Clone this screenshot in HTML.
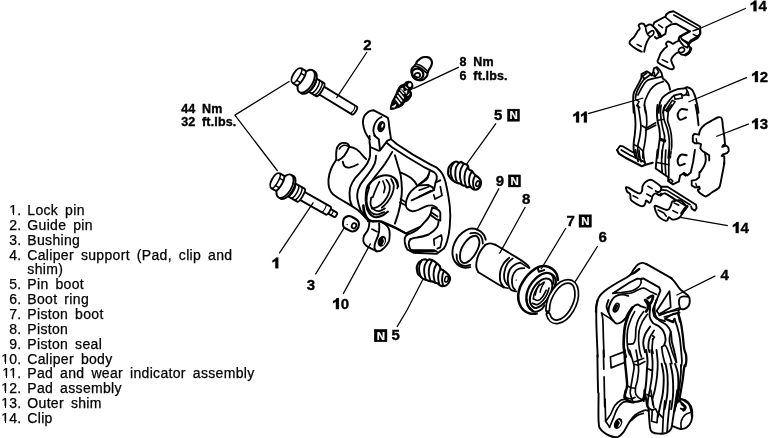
<!DOCTYPE html>
<html><head><meta charset="utf-8">
<style>
html,body{margin:0;padding:0;background:#fff;}
body{width:770px;height:438px;position:relative;overflow:hidden;will-change:transform;opacity:0.999;font-family:"Liberation Sans",sans-serif;color:#000;}
.lg{position:absolute;left:0;font-size:14px;line-height:15px;white-space:nowrap;letter-spacing:0.33px;word-spacing:2.7px;height:15px;-webkit-text-stroke:0.25px #000;}
.lg i{font-style:normal;display:inline-block;width:21.3px;text-align:right;word-spacing:0;letter-spacing:0.2px;}
.lg b{font-weight:normal;position:absolute;left:27.3px;top:0;}
svg{position:absolute;left:0;top:0;}
.fw{position:absolute;width:7px;height:3px;background:#fff;}
.fs{position:absolute;width:1.58px;height:2.25px;background:#000;}
.n{font-weight:bold;font-size:15px;font-family:"Liberation Sans",sans-serif;}
.t{font-weight:bold;font-size:12.5px;letter-spacing:0.15px;word-spacing:3px;font-family:"Liberation Sans",sans-serif;}
.nn{font-weight:bold;font-size:11.5px;font-family:"Liberation Sans",sans-serif;}
</style></head><body>
<div class="lg" style="top:202.9px"><i>1.</i><b>Lock pin</b></div>
<div class="lg" style="top:217.8px"><i>2.</i><b>Guide pin</b></div>
<div class="lg" style="top:232.6px"><i>3.</i><b>Bushing</b></div>
<div class="lg" style="top:247.5px"><i>4.</i><b>Caliper support (Pad, clip and</b></div>
<div class="lg" style="top:262.3px"><i></i><b>shim)</b></div>
<div class="lg" style="top:277.2px"><i>5.</i><b>Pin boot</b></div>
<div class="lg" style="top:292.1px"><i>6.</i><b>Boot ring</b></div>
<div class="lg" style="top:306.9px"><i>7.</i><b>Piston boot</b></div>
<div class="lg" style="top:321.8px"><i>8.</i><b>Piston</b></div>
<div class="lg" style="top:336.6px"><i>9.</i><b>Piston seal</b></div>
<div class="lg" style="top:351.5px"><i>10.</i><b>Caliper body</b></div>
<div class="lg" style="top:366.4px"><i>11.</i><b>Pad and wear indicator assembly</b></div>
<div class="lg" style="top:381.2px"><i>12.</i><b>Pad assembly</b></div>
<div class="lg" style="top:396.1px"><i>13.</i><b>Outer shim</b></div>
<div class="lg" style="top:410.9px"><i>14.</i><b>Clip</b></div>
<div class="fw" style="left:10px;top:213px"></div><div class="fs" style="left:12.58px;top:213px"></div>
<div class="fw" style="left:2px;top:362px"></div><div class="fs" style="left:4.58px;top:362px"></div>
<div class="fw" style="left:3px;top:376px"></div><div class="fs" style="left:5.58px;top:376px"></div>
<div class="fw" style="left:10px;top:376px"></div><div class="fs" style="left:12.58px;top:376px"></div>
<div class="fw" style="left:2px;top:391px"></div><div class="fs" style="left:4.58px;top:391px"></div>
<div class="fw" style="left:2px;top:406px"></div><div class="fs" style="left:4.58px;top:406px"></div>
<div class="fw" style="left:2px;top:421px"></div><div class="fs" style="left:4.58px;top:421px"></div>
<svg width="770" height="438" viewBox="0 0 770 438" fill="none" stroke="#000" stroke-width="1.7" stroke-linecap="round" stroke-linejoin="round">
<g stroke-width="1.90">
<g transform="translate(295.7,74.9) rotate(31.2)" fill="#fff">
<path d="M26,-4.6 L68.5,-4.6 C71,-4.6 71,4.6 68.5,4.6 L26,4.6 Z"/>
<path d="M67,-3.5 C68.2,-2 68.2,2 67,3.5" fill="none" stroke-width="1.12"/>
<path d="M14,-7.6 L28.5,-7.6 C31.5,-7.6 31.5,7.6 28.5,7.6 L14,7.6 Z"/>
<path d="M19.5,-7.6 C22.3,-5 22.3,5 19.5,7.6 M23,-7.6 C25.8,-5 25.8,5 23,7.6 M26.3,-7.6 C29,-5 29,5 26.3,7.6" fill="none" stroke-width="1.46"/>
<ellipse cx="14.5" cy="0" rx="6.6" ry="12.8"/>
<ellipse cx="12.3" cy="0" rx="6.6" ry="12.8"/>
<path d="M6.5,-8.6 L2,-8.6 C-0.6,-8.6 -2.4,-5 -2.4,0 C-2.4,5 -0.6,8.6 2,8.6 L6.5,8.6 C9.3,6 9.3,-6 6.5,-8.6 Z"/>
<path d="M2,-8.6 C4.6,-6 4.6,6 2,8.6" fill="none" stroke-width="1.46"/>
<path d="M3.8,-4.2 L8.2,-4.2 M3.8,4.2 L8.2,4.2" stroke-width="1.46"/>
</g>
<g transform="translate(274.3,180.1) rotate(29.5)" fill="#fff">
<path d="M60,-2.6 L70,-2.6 C72,-2.6 72,2.6 70,2.6 L60,2.6 Z"/>
<path d="M66,-2.6 C67.3,-1.5 67.3,1.5 66,2.6" fill="none" stroke-width="1.12"/>
<path d="M28,-4.6 L62,-4.6 C64,-4.6 64,4.6 62,4.6 L28,4.6 Z"/>
<path d="M57,-4.6 C58.6,-3 58.6,3 57,4.6" fill="none" stroke-width="1.12"/>
<path d="M14,-7.4 L30.5,-7.4 C33.3,-7.4 33.3,7.4 30.5,7.4 L14,7.4 Z"/>
<path d="M20,-7.4 C22.8,-5 22.8,5 20,7.4 M23.8,-7.4 C26.5,-5 26.5,5 23.8,7.4 M27.5,-7.4 C30.2,-5 30.2,5 27.5,7.4" fill="none" stroke-width="1.46"/>
<ellipse cx="14.5" cy="0" rx="6.6" ry="13"/>
<ellipse cx="12.3" cy="0" rx="6.6" ry="13"/>
<path d="M6.5,-8.6 L2,-8.6 C-0.6,-8.6 -2.4,-5 -2.4,0 C-2.4,5 -0.6,8.6 2,8.6 L6.5,8.6 C9.3,6 9.3,-6 6.5,-8.6 Z"/>
<path d="M2,-8.6 C4.6,-6 4.6,6 2,8.6" fill="none" stroke-width="1.46"/>
<path d="M3.8,-4.2 L8.2,-4.2 M3.8,4.2 L8.2,4.2" stroke-width="1.46"/>
</g>

<g>
<path d="M369.8,139.5 C366,135 363.5,128 363,123.4 C362.8,119 364,116 365.6,114.3 C367.5,112 370.5,110.4 373.4,110.2 L387.7,117.6 C388.6,120 389,124 389.2,127 L391,139.1"/>
<path d="M381.5,117 C378,118.5 375,122 373.8,127 C373,131 373.6,134 375,135.5"/>
<ellipse cx="381.3" cy="126.6" rx="2.9" ry="4.9" transform="rotate(18 381.3 126.6)" stroke-width="1.68" fill="#000"/>
<ellipse cx="382.4" cy="125.6" rx="0.9" ry="2.2" transform="rotate(18 382.4 125.6)" fill="#fff" stroke="none"/>
<path d="M369.6,136 C369.2,140 369.6,144 370.2,147 L379,150.8 M374.2,135.5 L378.8,139.2 L380,150.3 L387.5,140.6 L391,139.1"/>
<path d="M391,139.1 L397,144.3 L413.4,154.9 L429.7,164.2 L436.8,167.7 C439,169.5 440.5,171 441.8,173 C444,176.5 445.5,181 446.4,186 C447.8,192 449,199 449.8,206 C450.4,212 450.4,220 449.8,226 C449.4,232 448.4,237 447,241.5 C446,245 445,247 443.8,248.6 L436.8,253.8 L413.4,252.7 L407.5,249.7 C406,247.5 405.3,245.5 405,243.5 C404.6,241.5 404.5,239.5 404.8,238 C405.3,236.5 406.3,235.3 407.6,234.3"/>
<path d="M386.6,142.8 L392,147.3 L407.5,157.2 L425.1,167.7 L434.4,172.4 C436,173.8 436.6,175 436.8,176.5 C437,178.5 436.6,180.5 435.5,182.5 L434,190"/>
<path d="M436.8,182 L440.3,180.3"/>
<path d="M392.3,151.9 C390,156 387.5,160 385.1,163.6 C382,168 379,171.5 376,175.4 C373.5,178.5 371.5,181.5 369.5,184.5 L367,188.4"/>
<path d="M394.9,155.2 C396,159 397,162.5 398.1,166.3 C399.2,169.5 400,172.5 400.7,175.4 C401.4,180 401.8,185 401.9,189 C401.9,193 401.6,196.5 401.1,199.5 C400.4,204.5 399.4,209 398.2,213.6 L394.9,223.6"/>
<path d="M400.9,172.6 C404.5,174 408,175.8 411.1,178 C413.5,180 415.4,182.2 416.8,185"/>
<path d="M429.7,171.2 C429.3,173.5 428.5,175.3 427.4,177.1 C425,180 422,182.3 419.2,184.3"/>
<path d="M428.6,175 C428.2,177 427.4,178.6 426.2,179.7 L418,185.5 C415.5,187.3 413,189.3 411,191.4 C409.5,193.2 408.3,195.2 407.5,197.2 C406.5,199.6 405.9,202 405.8,204.2 C405.8,206.2 406.4,207.8 407.5,208.9 C408.8,210.3 410.4,211 412.2,211.2 C414.2,211.3 416.2,210.8 418,210 L425.1,206.6 C427.4,205.7 429.8,205.3 432.1,205.4 C433.8,205.8 435.4,206.6 436.8,207.7"/>
<path d="M418,185.5 L428,184.9 L432.7,187.3 L433.8,190.2 L411.6,200.3"/>
<path d="M419.2,190.2 L428.6,186.7 M419.2,196.4 L430.9,190.8" stroke-width="1.68"/>
<path d="M400.5,199 L405.2,201.9 M399.9,202.5 L404.6,204.8" stroke-width="1.68"/>
<path d="M440.3,186.7 L442,195.5 L435,199 L433.8,194.9" stroke-width="1.68"/>
<path d="M432.1,207.7 L430.3,214.7 L436.8,219.4 L440.3,220.6 L440.3,212.4 C439.4,210.8 438.2,209.6 436.8,208.9 L432.1,207.7"/>
<path d="M431.5,212.5 L437.5,216.5" stroke-width="1.68"/>
<path d="M430.3,214.7 C428.5,218 426.5,220.5 423.9,222.9 C421.7,225.6 419.3,227.9 416.9,229.9 C414,232 410.7,233.5 407.5,234.5"/>
<path d="M410.5,239.2 C409.3,240.6 408.7,242.2 408.7,243.9 C408.9,246.3 409.7,248.5 411,250.3 L434.4,250.3 L436.8,251.5"/>
<path d="M410.5,239.2 C412.5,238.2 414.7,237.7 416.9,237.5 C421,237 425,236 428.6,234.5 C432,232.5 434.9,230.2 436.8,227.5 C438,225.7 438.5,223.7 438.5,221.7"/>
<path d="M433.8,239.2 L441.4,235.1 L442,239.2 L440.3,247.4 L437.3,248.6 M433.8,239.5 L434.4,245.1" stroke-width="1.68"/>
<path d="M411.5,250.8 L434,251" stroke-width="2.24"/>
<path d="M368,221.3 L381.7,221.3 L394.7,227.1 L407.6,234.3"/>
<path d="M336.3,159.7 C336,155 336,151.5 336.9,148 C338,145.5 339.5,143.8 341.5,143.1 C344,142.6 346.5,143 348,144.1 C348.8,144.9 349.2,145.8 349.3,146.7 C348,150 346.3,153 344.1,155.8 C342.4,157.6 340.4,159.2 338.2,160.4"/>
<path d="M349.3,146.7 C351.8,147 354.3,147.9 356.5,149.3 C359,151 361,153.3 363,155.8 L366.2,159.1"/>
<path d="M336.3,159.7 C334.3,162.5 332.5,165.5 331.1,168.9 C329.7,172.3 328.8,175.8 328.5,179.3 C328.3,182.5 328.5,185.3 329.1,187.8 C329.9,190.4 331.2,192.5 333,194.3 C335.3,196.3 338,198 340.8,199.5 L348.6,204.1 C351.8,206 354.9,207.9 357.8,210 C360.2,212 362.3,214.2 364.3,216.5 L369.3,222.2"/>
<path d="M342.8,161.7 C343,163.5 343.6,165 344.7,166.3 C346,167.4 347.6,167.8 349.3,167.6 C352.3,167 355.2,165.8 357.8,164.3"/>
<path d="M339.3,149 C340.4,147 341.8,145.8 343.3,145.4 C345,145.2 346.5,145.4 347.8,146.2" stroke-width="1.57"/>
<path d="M370.2,146.5 L370.1,150.6 C370.3,153.5 370.1,156 369.5,158.4 C368.4,161.8 366.6,164.8 364.3,167.6 C361.5,171.2 358.2,174.5 355.2,178 C353,181 351.2,184.2 350.2,187.5 C349.4,191 349.2,195 349.9,199.5 C350.3,201.5 351,203.5 351.9,205.4"/>
<path d="M376,155.8 C376,158.5 375.6,161 374.7,163.6 C373.2,167.4 370.9,170.8 368.2,174.1 C365.5,177.6 362.7,180.9 360.4,184.5 C358.6,187.6 357.5,191 357.2,194.5 C357.1,197 357.3,199 357.8,200.8 C358.4,204 359.2,207 360.4,209.9 C361.8,212.6 363.6,215 365.6,217.1"/>
<path d="M363,205.4 C363,208.4 363.4,211.3 364.3,213.9 C365.5,216.8 367.2,219 369.5,220.4 C372,221.3 375,221.4 378.6,221 L395.5,228.2 L405.9,233.4 L420,226.9"/>
<path d="M369.3,223.2 C369.2,225.5 368.8,227.7 368,229.7 C367,232 365.4,233.7 364.1,235.6 C363.3,237.5 363.1,239.5 363.4,241.5 C363.9,243.2 364.8,244.5 366,245.4 C367.7,246.7 369.5,247.7 371.3,248.6 L376.5,251.2 C378.4,251.4 380.2,251 381.7,249.9 C383.8,248.5 385.5,246.7 386.9,244.7 C388,243.3 388.8,241.8 389.2,240.2 C389.8,237 389.9,234 389.5,231 C389.2,229.3 388.5,227.8 387.5,226.5 C386,224.6 384,223.1 381.7,221.9"/>
<path d="M379.1,223.2 C379.4,226 379.4,228.5 379.1,231 C378.8,232.9 378.4,234.7 377.8,236.3 C377,238.5 376,240.6 375.2,242.8 C374.6,244.5 374.3,246.3 374.5,248 C374.9,249.3 375.5,250.3 376.5,251.2"/>
<ellipse cx="381.9" cy="241.3" rx="3.1" ry="4.8" transform="rotate(22 381.9 241.3)" fill="#000" stroke-width="1.68"/>
<path d="M383.6,238.6 C384.6,240 384.4,242.6 383,244.4" stroke="#fff" stroke-width="1.01"/>
<path d="M371.9,229.1 L377.1,231.7" stroke-width="1.68"/>
</g>

<path d="M398.2,186.5 C397.9,185.5 397.8,182.0 396.6,180.3 C395.4,178.6 393.4,177.0 391.1,176.2 C388.8,175.4 385.6,175.1 382.9,175.5 C380.1,176.0 377.2,177.2 374.7,179.0 C372.1,180.7 369.3,183.1 367.8,185.8 C366.3,188.5 366.0,192.2 365.8,195.4 C365.5,198.6 365.6,202.0 366.2,205.0 C366.7,208.0 367.6,211.2 369.2,213.2 C370.7,215.3 373.1,217.0 375.3,217.3 C377.6,217.7 380.8,216.2 382.9,215.3 C385.0,214.3 387.1,212.2 387.9,211.6" stroke-width="2.02"/>
<path d="M369.2,187.2 C368.8,188.7 367.2,193.1 366.8,196.1 C366.5,199.1 366.5,202.4 367.1,205.0 C367.7,207.6 368.9,210.2 370.5,211.8 C372.1,213.4 374.4,214.5 376.7,214.6 C379.0,214.6 383.0,212.5 384.2,212.1" stroke-width="1.79"/>
<path d="M371.2,197.5 C371.1,198.6 370.2,202.4 370.5,204.3 C370.9,206.2 371.9,208.0 373.3,209.1 C374.7,210.2 376.8,211.3 378.8,211.2 C380.7,211.0 383.9,208.9 384.9,208.4" stroke-width="1.79"/>
<path d="M386.3,179.6 C386.9,180.7 389.3,183.4 389.7,185.8 C390.1,188.2 389.6,191.4 388.6,194.0 C387.7,196.7 385.8,199.4 384.0,201.6 C382.2,203.7 379.8,205.6 377.8,206.8 C375.8,207.9 372.9,208.3 371.9,208.5" stroke-width="1.79"/>
<path d="M391.1,179.0 C391.6,180.1 393.7,183.2 393.8,185.8 C394.0,188.4 393.0,192.0 391.9,194.7 C390.8,197.5 388.9,200.1 387.3,202.2 C385.6,204.4 382.7,206.8 381.8,207.7" stroke-width="1.79"/>
<path d="M382.9,181.0 C383.2,182.0 384.8,185.2 384.9,187.2 C385.1,189.1 383.9,191.7 383.7,192.7" stroke-width="1.68"/>
<path d="M395.2,179.6 C395.6,180.6 397.2,183.6 397.5,185.1 C397.9,186.6 397.3,188.0 397.3,188.5" stroke-width="1.68"/>
<path d="M379.5,181.7 C378.8,183.1 376.7,187.3 375.6,189.9 C374.5,192.5 373.2,196.2 372.7,197.5" stroke-width="1.68"/>
<path d="M363.7,205.0 C363.9,206.4 364.3,210.8 365.1,213.2 C365.9,215.6 367.1,218.0 368.5,219.4 C369.9,220.8 372.7,221.3 373.6,221.7" stroke-width="1.68"/>

<path d="M666.5,14.2 L669.1,12.3 L673.5,11.3 L700.1,26.5 L700.4,33.6 L697.4,36.5 L690.6,40.5 L687.8,44.1"/>
<path d="M673.8,15.0 L698.5,28.9" stroke-width="1.57"/>
<path d="M666.5,14.2 L665.4,16.5 L654.4,22.3 L652.8,26.0"/>
<path d="M665.4,17.1 L671.7,22.3" stroke-width="1.57"/>
<path d="M658.6,24.9 L662.6,27.6" stroke-width="1.57"/>
<path d="M666.5,27.3 L671.2,24.4 L675.9,23.7 L689.3,31.2 L679.6,36.5 L678.8,39.6"/>
<path d="M666.5,27.3 L665.4,33.9 L661.2,36.5 L656.5,38.6 L654.9,37.0"/>
<path d="M652.8,26.0 L656.5,29.7 L660.2,33.9 L661.2,36.5 L658.4,35.7" fill="#000"/>
<path d="M652.8,26.0 C652.3,25.7 650.9,24.4 649.7,24.4 C648.4,24.5 646.5,26.3 645.5,26.2 C644.5,26.1 644.5,24.3 643.7,23.9 C642.9,23.5 641.6,23.4 640.7,23.7 C639.9,24.0 638.8,24.7 638.6,25.5 C638.5,26.3 639.9,27.7 639.7,28.6 C639.5,29.6 638.5,29.9 637.6,31.2 C636.7,32.6 635.5,35.1 634.4,36.5 C633.4,37.9 632.1,38.8 631.3,39.6 C630.5,40.5 629.9,41.0 629.7,41.7 C629.5,42.5 629.1,43.1 630.2,44.4 C631.4,45.6 634.6,47.9 636.5,49.1 C638.5,50.3 640.9,51.3 641.8,51.7"/>
<path d="M645.5,26.2 C645.6,26.9 645.6,28.8 646.0,30.2 C646.3,31.6 646.9,33.3 647.6,34.4 C648.3,35.4 649.4,36.3 650.2,36.5 C651.0,36.7 651.9,36.1 652.5,35.4 C653.1,34.8 653.9,33.3 653.9,32.5 C653.9,31.7 653.1,30.8 652.5,30.7 C651.9,30.6 651.0,31.2 650.2,31.8 C649.4,32.3 648.0,33.8 647.6,34.2" stroke-width="1.68"/>
<path d="M650.2,36.5 C649.8,37.2 648.4,39.1 647.6,40.7 C646.8,42.3 646.0,44.1 645.5,45.9 C644.9,47.8 644.4,50.8 644.2,51.7"/>
<path d="M637.1,44.4 L641.3,46.5" stroke-width="1.57"/>
<path d="M693.2,30.7 L698.5,29.1" stroke-width="1.57"/>
<path d="M680.1,36.5 L682.2,39.6 L688.0,44.1" stroke-width="1.57"/>
<path d="M690.1,31.3 L679.6,37.1 L678.6,39.2 L680.7,42.3 L683.8,46.0 L687.5,47.6 L689.1,43.9 L691.2,41.8 L697.5,38.1 L700.1,34.4 L700.1,29.7"/>
<path d="M681.7,39.2 L687.5,42.3" stroke-width="1.57"/>
<path d="M693.3,34.4 L697.5,36.5" stroke-width="1.57"/>
<path d="M678.6,40.7 C678.1,41.0 676.4,41.8 675.4,42.3 C674.5,42.8 673.6,43.9 672.8,43.9 C672.0,43.9 671.6,42.7 670.7,42.3 C669.8,41.9 668.4,41.3 667.6,41.6 C666.8,41.9 666.1,43.1 666.0,43.9 C665.9,44.7 667.3,45.7 667.0,46.5 C666.8,47.3 665.5,47.5 664.4,48.6 C663.4,49.8 661.7,51.7 660.7,53.3 C659.8,55.0 659.2,57.2 658.6,58.6 C658.1,60.0 657.2,60.8 657.6,61.7 C657.9,62.7 658.8,63.2 660.7,64.4 C662.7,65.5 667.1,67.8 669.1,68.6 C671.2,69.4 672.0,69.4 672.8,69.1 C673.6,68.8 674.0,67.9 673.9,67.0 C673.8,66.1 672.7,65.1 672.3,63.8 C671.9,62.6 671.0,61.0 671.2,59.6 C671.5,58.2 672.6,56.7 673.9,55.4 C675.1,54.2 677.4,52.5 678.6,52.3 C679.8,52.1 680.1,54.0 681.2,54.4 C682.4,54.8 684.1,55.3 685.4,54.9 C686.7,54.6 688.2,53.3 689.1,52.3 C690.0,51.2 690.7,49.7 690.7,48.6 C690.7,47.6 689.4,46.4 689.1,46.0"/>
<path d="M681.2,47.6 C680.3,47.8 678.9,49.0 678.6,49.7 C678.2,50.4 678.6,51.3 679.1,51.8 C679.6,52.2 680.9,52.7 681.7,52.5 C682.6,52.3 684.0,51.5 684.4,50.7 C684.7,50.0 684.4,48.6 683.8,48.1 C683.3,47.6 682.1,47.3 681.2,47.6 Z" stroke-width="1.68"/>
<path d="M685.4,54.9 C686.0,54.5 688.2,53.6 689.1,52.5 C690.0,51.5 690.5,49.3 690.8,48.6" stroke-width="2.91"/>
<path d="M662.3,59.6 L667.6,62.3" stroke-width="1.57"/>

<path d="M633.7,112.8 C633.6,111.0 633.2,104.8 633.2,101.6 C633.2,98.3 633.0,96.0 633.7,93.2 C634.5,90.5 636.6,87.5 637.9,84.9 C639.2,82.4 640.9,79.0 641.5,77.8"/>
<path d="M641.5,77.8 L641.5,74.2 L646.8,71.3 L649.8,73.1 L651.6,75.4 L653.3,71.9 L653.9,68.3 L656.9,67.1 L659.9,70.1 L661.6,73.1 L662.8,78.4"/>
<path d="M662.8,78.4 C663.3,78.8 664.8,79.7 665.8,80.8 C666.8,81.9 668.1,83.4 668.8,84.9 C669.5,86.4 669.8,88.9 670.0,89.7"/>
<path d="M635.5,98.0 C635.7,97.0 635.8,94.4 636.7,92.1 C637.6,89.7 639.6,85.9 640.9,83.7 C642.2,81.6 643.8,79.8 644.4,79.0" stroke-width="1.68"/>
<path d="M644.4,79.0 L642.7,76.0 L646.8,73.1" stroke-width="1.68"/>
<path d="M644.4,79.0 L651.0,74.2 L655.1,76.6 L658.7,71.9 L656.9,68.9" stroke-width="1.68"/>
<path d="M655.1,76.6 L654.2,72.5" stroke-width="1.57"/>
<path d="M637.9,95.0 C638.6,93.7 640.8,89.5 642.1,87.3 C643.3,85.1 644.3,83.3 645.6,82.0 C646.9,80.6 647.0,80.2 649.8,79.4 C652.5,78.5 660.2,77.1 662.2,76.6" stroke-width="1.68"/>
<path d="M645.6,112.8 C645.4,111.6 644.4,107.4 644.4,105.1 C644.4,102.8 644.6,101.8 645.6,99.2 C646.6,96.6 648.6,92.2 650.4,89.7 C652.2,87.2 654.1,85.7 656.3,84.3 C658.5,83.0 662.2,81.9 663.4,81.4" stroke-width="1.68"/>
<path d="M635.5,99.2 L639.1,101.6 L636.7,105.7 L639.7,107.5" stroke-width="1.46"/>
<path d="M633.7,105.0 C633.9,106.6 634.6,111.3 634.9,114.5 C635.2,117.7 635.5,120.8 635.5,124.0 C635.5,127.2 635.2,130.3 634.9,133.5 C634.6,136.7 633.9,140.2 633.7,143.0 C633.5,145.8 633.4,147.6 633.7,150.1 C634.0,152.6 635.2,156.6 635.5,157.8"/>
<path d="M637.9,105.0 C638.2,106.8 639.2,112.1 639.7,115.7 C640.2,119.2 640.9,122.8 640.9,126.4 C640.9,129.9 640.2,133.9 639.7,137.1 C639.2,140.2 638.2,142.8 637.9,145.4 C637.6,147.9 637.7,150.4 637.9,152.5 C638.1,154.6 638.9,156.9 639.1,157.8" stroke-width="1.68"/>
<path d="M644.4,105.0 C644.7,106.4 645.8,110.3 646.2,113.3 C646.6,116.3 646.8,120.2 646.8,122.8 C646.8,125.4 646.4,126.4 646.2,128.7 C646.0,131.1 645.9,134.3 645.6,137.1 C645.3,139.8 644.8,143.0 644.4,145.4 C644.0,147.7 643.5,149.2 643.2,151.3 C642.9,153.4 642.8,156.7 642.7,157.8" stroke-width="1.68"/>
<path d="M642.1,125.8 L646.2,128.2 L655.7,122.8" stroke-width="1.68"/>
<path d="M645.6,130.2 L655.7,125.2" stroke-width="1.68"/>
<path d="M634.3,144.8 L639.1,147.2 L643.0,151.1" stroke-width="1.57"/>
<path d="M635.5,150.0 C635.7,151.2 636.3,155.2 636.7,157.1 C637.2,159.0 638.0,160.6 638.3,161.3"/>
<path d="M639.1,150.0 C639.2,151.0 639.3,154.0 639.7,155.9 C640.0,157.9 640.9,160.9 641.1,161.9" stroke-width="1.57"/>
<path d="M643.2,150.0 C643.3,151.2 643.6,155.1 643.8,157.1 C644.1,159.1 644.5,161.1 644.7,161.9" stroke-width="1.68"/>
<path d="M617.1,150.0 L620.1,145.8 L623.1,146.4 L633.2,152.4" stroke-width="1.79"/>
<path d="M617.1,150.0 L618.9,153.6 L625.4,157.7 L638.5,164.5 L641.8,166.3 L645.6,164.8 L652.7,162.8" stroke-width="2.13"/>
<path d="M621.3,150.0 L630.2,155.3 L637.3,158.5 L644.7,162.1 L645.6,164.8" stroke-width="1.79"/>
<path d="M658.7,112.8 C658.8,111.6 658.7,107.6 659.3,105.1 C659.9,102.6 660.8,100.0 662.2,98.0 C663.7,96.0 665.6,94.7 668.2,93.2 C670.8,91.8 675.1,89.9 677.7,89.1 C680.3,88.3 682.0,88.8 683.6,88.5 C685.2,88.2 685.8,87.1 687.2,87.3 C688.6,87.5 690.6,88.3 691.9,89.7 C693.2,91.1 694.0,93.0 694.9,95.6 C695.8,98.2 696.7,102.2 697.3,105.1 C697.9,108.0 698.3,111.6 698.5,112.8"/>
<path d="M662.8,112.8 C663.1,111.9 663.5,109.6 664.6,107.5 C665.7,105.4 667.8,102.3 669.4,100.4 C670.9,98.4 672.1,96.7 674.1,95.6 C676.1,94.5 680.1,94.1 681.2,93.8" stroke-width="1.68"/>
<path d="M681.2,93.8 L683.6,95.6 L686.0,94.4 L687.2,90.9 L686.0,88.5" stroke-width="1.68"/>
<path d="M665.8,110.5 L672.3,100.4 L675.1,101.6 L668.4,111.6" stroke-width="1.57"/>
<path d="M674.1,95.6 L675.1,99.2 L682.4,98.0 L681.2,93.8" stroke-width="1.57"/>
<path d="M687.8,91.5 L689.0,95.6 L686.0,94.7" stroke-width="1.57"/>
<path d="M657.5,105.0 C657.4,106.2 656.9,109.6 656.9,112.1 C656.9,114.7 657.1,117.7 657.5,120.4 C657.9,123.2 658.9,126.0 659.3,128.7 C659.7,131.5 660.0,134.1 659.9,137.1 C659.8,140.0 659.1,143.1 658.7,146.6 C658.3,150.0 657.7,156.0 657.5,157.8"/>
<path d="M661.1,105.0 C661.0,106.0 660.5,108.6 660.5,110.9 C660.5,113.3 660.7,116.3 661.1,119.2 C661.5,122.2 662.2,125.8 662.8,128.7 C663.4,131.7 664.6,133.9 664.6,137.1 C664.6,140.2 663.3,144.3 662.8,147.7 C662.3,151.2 661.8,156.2 661.6,157.8" stroke-width="1.68"/>
<path d="M665.2,105.0 C664.9,105.8 663.6,107.4 663.4,109.7 C663.2,112.1 663.4,116.3 664.0,119.2 C664.6,122.2 666.2,124.8 667.0,127.6 C667.8,130.3 668.4,133.1 668.8,135.9 C669.2,138.6 669.5,140.5 669.4,144.2 C669.3,147.8 668.4,155.6 668.2,157.8" stroke-width="1.68"/>
<path d="M671.7,105.0 C670.9,106.0 667.6,109.7 667.0,110.9 C666.4,112.1 668.1,110.5 668.2,112.1 C668.3,113.7 667.4,118.1 667.6,120.4 C667.8,122.8 668.8,124.2 669.4,126.4 C670.0,128.5 670.8,131.1 671.1,133.5 C671.5,135.9 671.6,138.5 671.7,140.6 C671.8,142.7 671.7,145.1 671.7,146.0" stroke-width="1.68"/>
<path d="M671.7,146.6 L670.3,157.8" stroke-width="1.57" stroke-dasharray="3 1.6"/>
<path d="M659.9,138.2 L665.8,140.0 L665.2,142.0 L659.9,140.3 Z" stroke-width="1.12" fill="#000"/>
<path d="M687.2,109.7 C686.2,109.7 682.8,108.4 681.2,109.2 C679.7,109.9 677.9,112.7 677.7,114.5 C677.5,116.3 678.7,119.3 680.1,119.8 C681.4,120.3 685.0,117.9 686.0,117.5" stroke-width="2.02"/>
<path d="M695.5,105.0 C695.8,106.6 696.8,111.1 697.3,114.5 C697.8,117.9 698.3,123.4 698.5,125.2"/>
<path d="M664.0,109.7 L667.0,110.9" stroke-width="1.46"/>
<path d="M657.5,120.4 L664.0,119.2" stroke-width="1.46"/>
<path d="M657.5,150.0 L656.3,161.9 L655.7,168.4 L668.2,177.3 L668.2,180.9 L672.9,184.4 L678.9,181.5 L680.1,175.5 L683.6,173.2 L687.2,175.5 L690.7,172.6 L693.1,161.9 L694.9,150.0"/>
<path d="M662.2,150.0 C662.1,152.0 661.6,158.2 661.6,161.9 C661.6,165.5 662.1,170.3 662.2,172.0" stroke-width="1.68"/>
<path d="M665.8,150.0 C665.7,152.2 665.2,159.0 665.2,163.1 C665.2,167.1 665.7,172.5 665.8,174.3" stroke-width="1.68"/>
<path d="M669.4,150.0 C669.3,152.4 668.9,159.6 668.8,164.2 C668.7,168.9 668.8,175.6 668.8,177.9" stroke-width="1.68"/>
<path d="M656.9,162.5 L668.8,164.8" stroke-width="1.68"/>
<path d="M668.2,180.9 L670.6,179.1 L672.9,181.1 L671.1,183.2 Z" stroke-width="1.46"/>
<path d="M686.6,155.3 C685.7,155.2 682.7,154.0 681.2,154.7 C679.8,155.5 678.0,158.3 677.7,160.1 C677.4,161.9 678.3,164.8 679.5,165.4 C680.6,166.0 683.9,164.0 684.8,163.7" stroke-width="2.02"/>
<path d="M682.4,173.7 L684.2,172.6 L686.6,174.3 L685.4,176.1 Z" stroke-width="1.12" fill="#000"/>
<path d="M699.0,134.6 C699.2,133.8 699.4,131.4 700.3,129.8 C701.2,128.2 702.6,126.5 704.4,125.0 C706.3,123.5 709.1,122.2 711.3,120.9 C713.5,119.6 715.9,118.1 717.5,117.5 C719.1,116.9 720.1,117.0 720.9,117.5 C721.7,117.9 721.9,118.6 722.2,120.2 C722.6,121.8 722.6,124.3 722.9,127.1 C723.3,129.8 724.0,133.8 724.3,136.7 C724.6,139.5 724.9,142.9 725.0,144.2"/>
<path d="M725.0,144.2 L722.9,145.6 L722.2,146.9 L726.4,145.6 L728.4,147.6 L728.8,151.0 L727.0,153.1 L722.9,154.5 L721.6,155.8 L724.3,156.5 L724.3,164.1"/>
<path d="M699.0,134.6 L694.2,133.9 L692.8,136.0 L692.8,141.5 L694.8,143.2 L698.3,143.2 L701.0,144.2 L700.3,148.3 L702.4,151.0 L705.8,153.1 L709.2,155.2 L709.2,160.6"/>
<path d="M696.2,138.7 L696.9,142.4" stroke-width="1.46"/>
<path d="M705.1,153.8 C705.2,154.8 705.9,158.0 705.8,159.9 C705.7,161.9 705.4,163.4 704.4,165.4 C703.5,167.4 701.0,170.9 700.3,172.0" stroke-width="1.90"/>
<path d="M724.2,162.8 C724.1,163.3 724.3,163.3 723.9,165.5 C723.5,167.8 722.5,173.1 721.8,176.5 C721.2,179.9 720.5,184.0 719.8,186.1 C719.1,188.2 719.0,187.8 717.7,188.8 C716.5,189.9 714.2,191.0 712.2,192.3 C710.3,193.5 707.7,195.9 706.1,196.4 C704.5,196.8 703.9,195.8 702.7,195.0 C701.4,194.2 699.3,192.6 698.5,191.6 C697.7,190.6 698.0,189.5 697.9,189.1"/>
<path d="M699.5,172.0 L699.2,177.2 L695.8,179.9 L691.7,180.6 L691.7,185.4 L695.1,187.5 L699.2,186.8 L699.9,188.8 L697.9,190.2" stroke-width="1.90"/>
<path d="M695.8,183.4 L696.5,185.8" stroke-width="1.46"/>
<path d="M625.9,188.0 C626.2,187.9 625.5,186.5 627.7,187.4 C629.9,188.3 636.6,192.8 639.0,193.4 C641.4,194.0 641.4,192.2 642.0,191.0 C642.6,189.8 642.0,187.7 642.6,186.2 C643.2,184.8 644.2,183.2 645.5,182.1 C646.8,181.0 648.8,179.8 650.3,179.7 C651.8,179.6 652.8,180.4 654.4,181.5 C656.1,182.6 659.3,184.9 660.4,186.2 C661.5,187.6 661.4,188.8 661.0,189.8 C660.6,190.8 658.9,192.0 658.0,192.2 C657.1,192.4 656.0,191.2 655.6,191.0"/>
<path d="M625.9,188.0 C626.1,188.6 626.4,190.6 627.1,191.6 C627.8,192.6 629.5,192.7 630.1,194.0 C630.7,195.3 630.2,198.0 630.7,199.3 C631.2,200.6 631.5,200.6 633.1,201.7 C634.6,202.8 638.4,205.1 640.2,205.8 C642.0,206.5 642.9,206.3 643.7,205.8 C644.6,205.3 645.1,203.8 645.5,202.9 C645.9,202.0 645.4,200.5 646.1,200.5 C646.8,200.5 648.8,203.0 649.7,202.9 C650.6,202.8 651.0,201.1 651.5,199.9 C652.0,198.7 652.0,196.8 652.7,195.7 C653.3,194.7 654.5,193.5 655.6,193.4 C656.7,193.3 658.3,195.2 659.2,195.2 C660.1,195.2 660.7,193.7 661.0,193.4"/>
<path d="M647.9,186.2 L652.1,188.6" stroke-width="1.57"/>
<path d="M646.7,194.0 L650.9,196.3" stroke-width="1.57"/>
<path d="M633.1,195.7 L637.8,198.1" stroke-width="1.57"/>
<path d="M661.0,186.8 L667.5,186.8 L696.0,204.7 L696.6,208.2 L694.8,210.6 L691.8,208.8 L691.2,206.4"/>
<path d="M661.0,189.8 L666.9,190.4 L690.1,204.7" stroke-width="1.68"/>
<path d="M665.1,193.4 L686.5,206.4" stroke-width="1.68"/>
<path d="M660.4,195.7 C661.1,195.4 662.7,193.2 664.5,193.4 C666.3,193.6 669.2,195.7 671.1,196.9 C672.9,198.1 675.6,199.7 675.8,200.5 C676.0,201.3 673.1,200.7 672.2,201.7 C671.4,202.7 671.4,205.0 670.5,206.4 C669.6,207.8 669.4,210.1 666.9,210.0 C664.4,209.9 657.6,206.0 655.6,205.8 C653.6,205.6 654.8,207.5 655.0,208.8 C655.2,210.1 656.1,212.2 656.8,213.6 C657.5,214.9 657.8,215.9 659.2,217.1 C660.6,218.3 663.7,220.2 665.1,220.7 C666.5,221.2 666.9,220.7 667.5,220.1 C668.1,219.5 667.9,217.2 668.7,217.1 C669.5,217.0 670.9,219.2 672.2,219.5 C673.6,219.8 675.6,219.4 677.0,218.9 C678.4,218.4 679.6,217.6 680.6,216.5 C681.5,215.4 681.9,213.9 682.9,212.4 C683.9,210.9 686.2,209.0 686.5,207.6 C686.8,206.2 685.7,205.2 684.7,204.1 C683.7,202.9 682.0,201.1 680.6,200.5 C679.1,199.9 676.6,200.5 675.8,200.5"/>
<path d="M658.0,210.0 L663.9,213.0 L666.3,216.2" stroke-width="1.57"/>
<path d="M674.0,202.9 L678.8,205.2" stroke-width="1.57"/>
<path d="M672.8,210.6 L677.6,213.0" stroke-width="1.57"/>
<path d="M681.7,213.6 C682.2,212.8 683.8,210.0 684.7,208.8 C685.6,207.6 686.7,206.8 687.1,206.4" stroke-width="2.91"/>

<path d="M448.1,172.2 C448.2,170.9 448.2,168.8 448.8,167.4 C449.3,166.0 450.6,164.8 451.5,164.0 C452.4,163.1 453.4,162.6 454.2,162.2 C455.0,161.8 455.5,161.4 456.3,161.5 C457.1,161.6 458.2,162.7 459.0,162.7 C459.8,162.8 460.3,161.8 461.1,161.9 C461.9,162.1 463.0,163.3 463.8,163.7 C464.6,164.1 465.2,163.9 465.9,164.2 C466.6,164.6 467.5,165.2 467.9,166.0 C468.4,166.9 468.2,168.5 468.8,169.3 C469.3,170.1 470.6,170.1 471.4,170.7 C472.1,171.3 472.7,172.1 473.4,172.9 C474.1,173.6 474.7,174.5 475.5,175.2 C476.3,175.9 477.4,176.5 478.2,177.3 C479.0,178.0 479.8,178.7 480.3,179.7 C480.7,180.7 481.1,181.9 481.0,183.2 C480.8,184.4 480.4,186.2 479.6,187.3 C478.8,188.3 477.3,189.3 476.2,189.6 C475.0,189.9 473.6,189.4 472.7,189.0 C471.9,188.7 471.4,187.9 471.0,187.4 C470.5,186.9 470.6,186.3 470.0,186.3 C469.4,186.3 468.1,187.5 467.3,187.4 C466.5,187.3 466.0,186.2 465.2,185.9 C464.4,185.5 463.4,185.7 462.5,185.3 C461.6,185.0 460.8,184.0 459.7,183.6 C458.7,183.1 457.4,183.1 456.3,182.6 C455.2,182.1 453.9,181.2 452.9,180.4 C451.8,179.6 450.9,178.6 450.1,177.7 C449.4,176.8 448.7,175.8 448.4,174.9 C448.0,174.0 448.0,173.4 448.1,172.2 Z" stroke-width="2.13" fill="#fff"/>
<path d="M454.2,162.2 C453.7,163.1 451.8,165.4 451.2,167.4 C450.7,169.4 450.5,172.1 450.8,174.2 C451.1,176.3 452.5,179.0 452.9,180.0" stroke-width="1.90"/>
<path d="M459.0,162.7 C458.5,163.6 456.5,165.9 455.9,168.1 C455.3,170.2 455.2,173.2 455.3,175.6 C455.5,178.0 456.7,181.3 457.0,182.5" stroke-width="1.90"/>
<path d="M463.8,163.7 C463.3,164.7 461.3,167.2 460.7,169.5 C460.0,171.7 459.8,174.5 460.0,177.0 C460.2,179.5 461.5,183.2 461.8,184.4" stroke-width="1.90"/>
<path d="M468.2,166.3 C467.7,167.3 465.8,170.0 465.2,172.2 C464.6,174.4 464.4,177.4 464.5,179.7 C464.6,182.1 465.7,185.1 465.9,186.2" stroke-width="1.90"/>
<path d="M472.1,171.2 C471.6,172.1 470.1,174.4 469.6,176.3 C469.1,178.2 468.9,180.7 469.0,182.5 C469.2,184.2 470.2,186.2 470.4,187.0" stroke-width="1.90"/>
<path d="M475.5,175.3 C475.1,176.1 473.8,178.1 473.4,179.7 C473.0,181.4 473.0,183.7 473.2,185.2 C473.3,186.7 474.1,188.2 474.2,188.8" stroke-width="1.90"/>
<ellipse cx="477.7" cy="183.6" rx="1.7" ry="2.8" transform="rotate(20 477.7 183.6)" stroke-width="1.57"/>
<path d="M417.2,271.0 C417.0,269.9 416.6,268.3 416.8,266.9 C417.0,265.5 417.7,263.9 418.6,262.8 C419.4,261.7 420.8,260.7 422.0,260.1 C423.1,259.5 424.5,259.2 425.4,259.2 C426.3,259.3 426.8,260.3 427.5,260.3 C428.2,260.4 428.7,259.4 429.5,259.4 C430.3,259.4 431.5,260.0 432.3,260.3 C433.1,260.7 433.5,260.8 434.3,261.3 C435.1,261.8 436.1,262.7 437.1,263.5 C438.0,264.3 439.2,265.3 439.8,266.2 C440.4,267.1 440.0,268.3 440.6,269.0 C441.2,269.7 442.3,269.8 443.2,270.3 C444.1,270.9 445.0,271.6 446.0,272.4 C446.9,273.2 448.0,274.1 448.7,275.1 C449.4,276.2 450.1,277.3 450.1,278.6 C450.1,279.8 449.4,281.5 448.7,282.7 C448.0,283.8 447.1,284.8 446.0,285.4 C444.8,286.0 443.0,286.2 441.8,286.1 C440.7,286.0 439.8,285.2 439.1,284.7 C438.4,284.3 438.4,283.8 437.7,283.5 C437.1,283.2 435.9,283.0 435.0,282.7 C434.1,282.3 433.3,281.7 432.3,281.4 C431.2,281.1 429.9,281.1 428.8,280.9 C427.8,280.6 427.1,280.3 426.1,279.9 C425.1,279.5 423.7,279.2 422.7,278.6 C421.6,277.9 420.7,276.6 419.9,275.8 C419.1,275.0 418.3,274.6 417.9,273.8 C417.4,273.0 417.4,272.2 417.2,271.0 Z" stroke-width="2.13" fill="#fff"/>
<path d="M422.0,260.1 C421.6,260.9 420.0,263.0 419.5,264.9 C419.1,266.7 419.0,269.0 419.2,271.0 C419.5,273.1 420.6,276.1 420.9,277.1" stroke-width="1.90"/>
<path d="M427.5,260.3 C427.0,261.2 425.3,263.5 424.7,265.5 C424.2,267.6 424.0,270.1 424.2,272.4 C424.4,274.7 425.5,278.3 425.8,279.5" stroke-width="1.90"/>
<path d="M432.3,260.3 C431.8,261.3 430.1,264.0 429.5,266.2 C428.9,268.5 428.7,271.3 428.8,273.8 C429.0,276.3 430.2,279.9 430.5,281.2" stroke-width="1.90"/>
<path d="M436.8,263.5 C436.4,264.4 434.8,266.9 434.3,269.0 C433.8,271.0 433.5,273.6 433.6,275.8 C433.7,278.1 434.8,281.4 435.0,282.5" stroke-width="1.90"/>
<path d="M440.5,269.0 C440.2,269.7 439.1,271.5 438.7,273.1 C438.3,274.7 438.1,276.7 438.2,278.6 C438.2,280.4 439.1,283.4 439.2,284.3" stroke-width="1.90"/>
<path d="M444.2,271.0 C443.9,271.7 442.9,273.5 442.5,275.1 C442.2,276.7 442.0,278.9 442.1,280.6 C442.2,282.4 443.0,284.7 443.2,285.5" stroke-width="1.90"/>
<ellipse cx="446.5" cy="279.2" rx="1.7" ry="3" transform="rotate(15 446.5 279.2)" stroke-width="1.57"/>

<path d="M470.3,267.1 C469.4,267.2 466.9,267.9 465.1,267.7 C463.3,267.5 461.1,267.0 459.4,265.9 C457.7,264.9 456.0,263.2 454.8,261.4 C453.7,259.6 452.9,257.5 452.6,255.1 C452.3,252.7 452.5,249.8 453.1,247.1 C453.8,244.5 455.0,241.5 456.6,239.1 C458.1,236.7 460.2,234.6 462.3,232.8 C464.4,231.1 467.0,229.5 469.1,228.8 C471.2,228.2 473.0,228.5 474.8,228.8 C476.6,229.2 478.4,230.1 480.0,231.1 C481.5,232.2 483.0,233.7 484.0,235.1 C484.9,236.6 485.4,238.9 485.7,239.7"/>
<path d="M460.0,256.2 C460.0,254.3 460.3,251.7 461.1,249.4 C462.0,247.1 463.6,244.5 465.1,242.5 C466.6,240.6 468.5,238.6 470.3,237.4 C472.0,236.3 474.1,235.6 475.4,235.7 C476.7,235.8 477.6,236.7 478.3,238.0 C478.9,239.2 479.5,241.2 479.4,243.1 C479.3,245.0 478.6,247.2 477.7,249.4 C476.7,251.6 475.2,254.2 473.7,256.2 C472.2,258.2 470.2,260.2 468.5,261.4 C466.9,262.5 465.3,263.2 464.0,263.1 C462.7,263.0 461.5,262.0 460.8,260.8 C460.1,259.7 459.9,258.1 460.0,256.2 Z" stroke-width="1.90"/>
<path d="M470.3,233.4 C471.1,233.3 473.8,232.6 475.4,232.8 C477.0,233.1 478.8,234.1 480.0,235.1 C481.1,236.2 481.8,237.7 482.2,239.1 C482.7,240.6 482.7,242.9 482.8,243.7" stroke-width="1.79"/>
<path d="M456.6,254.5 C456.7,255.4 456.6,258.1 457.1,259.7 C457.7,261.3 458.7,263.2 460.0,264.2 C461.3,265.3 463.4,265.9 465.1,265.9 C466.8,266.0 469.4,265.0 470.3,264.8" stroke-width="1.79"/>
<path d="M485.3,244.8 C484.5,245.8 481.8,248.6 480.5,251.0 C479.1,253.4 477.7,256.4 477.1,259.2 C476.4,261.9 476.1,265.2 476.4,267.4 C476.6,269.6 478.1,271.4 478.4,272.2"/>
<path d="M485.3,244.8 C486.1,244.6 488.4,243.4 490.1,243.4 C491.8,243.4 494.6,244.6 495.5,244.8"/><path d="M495.5,244.8 L516.1,257.1 L521.6,260.5 L527.7,265.3 L529.4,267.7"/>
<path d="M478.4,272.2 L499.7,285.2 L503.8,287.3"/>
<path d="M509.2,257.8 C508.3,258.7 505.3,261.0 503.8,263.3 C502.3,265.6 500.9,268.5 500.3,271.5 C499.8,274.5 499.8,278.5 500.3,281.1 C500.9,283.7 503.2,286.2 503.8,287.3"/>
<path d="M512.7,258.5 C511.8,259.3 508.8,261.3 507.5,263.6 C506.1,265.8 505.0,269.1 504.5,271.8 C503.9,274.5 504.0,277.5 504.5,279.7 C504.9,281.9 506.7,284.1 507.2,284.9" stroke-width="1.79"/>
<path d="M520.2,262.6 C519.3,262.9 516.4,263.5 514.7,264.7 C513.0,265.8 511.1,267.4 509.9,269.5 C508.8,271.5 508.1,274.4 507.9,277.0 C507.6,279.6 508.0,283.0 508.6,285.2 C509.1,287.4 510.0,289.0 511.3,290.0 C512.6,291.0 515.3,291.1 516.1,291.4" stroke-width="1.90"/>
<path d="M524.3,268.1 C523.4,268.2 520.5,268.0 518.8,268.8 C517.1,269.6 515.2,271.1 514.0,272.9 C512.9,274.7 512.2,277.4 512.0,279.7 C511.8,282.0 512.2,284.9 512.7,286.6 C513.2,288.2 514.6,289.1 515.0,289.6" stroke-width="1.79"/>
<path d="M520.2,262.6 L529.1,268.1" stroke-width="1.68"/>
<path d="M503.8,287.3 L507.9,288.2" stroke-width="1.68"/>
<circle cx="499.4" cy="253.0" r="0.8" fill="#000" stroke="none"/>
<circle cx="516.1" cy="280.1" r="0.7" fill="#000" stroke="none"/>
<path d="M536.7,313.5 C535.5,313.5 532.0,314.1 529.8,313.5 C527.6,312.9 525.4,311.7 523.6,310.1 C521.9,308.5 520.4,306.3 519.5,303.9 C518.6,301.5 518.1,298.5 518.2,295.7 C518.3,292.8 519.1,289.6 520.2,286.8 C521.4,283.9 523.2,281.1 525.0,278.5 C526.8,276.0 528.9,273.6 531.2,271.7 C533.5,269.8 536.2,267.8 538.7,266.9 C541.2,266.0 544.0,265.9 546.2,266.2 C548.5,266.6 550.7,267.7 552.4,269.0 C554.1,270.2 555.6,271.9 556.5,273.8 C557.4,275.6 557.7,278.9 557.9,279.9" stroke-width="2.58"/>
<path d="M532.5,310.7 C531.7,309.8 528.8,307.4 527.8,305.3 C526.7,303.1 526.4,300.2 526.4,297.7 C526.4,295.2 526.8,292.7 527.8,290.2 C528.7,287.7 530.2,284.9 531.9,282.7 C533.6,280.4 535.9,278.1 538.0,276.5 C540.2,274.9 542.7,273.5 544.9,273.1 C547.0,272.6 549.4,273.1 551.0,273.8 C552.6,274.4 553.7,275.8 554.5,277.2 C555.3,278.5 555.8,280.3 555.8,282.0 C555.8,283.7 554.7,286.5 554.5,287.5" stroke-width="2.35"/>
<path d="M537.8,267.9 L538.8,271.7 L544.2,270.1" stroke-width="2.02"/>
<path d="M529.8,300.5 C529.7,298.3 530.3,295.4 531.2,292.9 C532.1,290.4 533.6,287.6 535.3,285.4 C537.0,283.2 539.5,281.1 541.5,279.9 C543.4,278.8 545.3,278.4 546.9,278.5 C548.5,278.7 550.1,279.5 551.0,280.6 C552.0,281.7 552.4,283.5 552.4,285.4 C552.4,287.3 552.0,289.8 551.0,292.2 C550.1,294.6 548.5,297.6 546.9,299.8 C545.3,301.9 543.3,303.9 541.5,305.3 C539.6,306.6 537.6,307.9 536.0,308.0 C534.4,308.1 532.9,307.2 531.9,305.9 C530.8,304.7 529.9,302.6 529.8,300.5 Z" stroke-width="2.02"/>
<path d="M533.2,299.1 C533.5,298.1 533.7,295.1 534.6,292.9 C535.5,290.8 537.1,287.9 538.7,286.1 C540.3,284.3 543.3,282.7 544.2,282.0" stroke-width="1.57"/>
<path d="M532.5,303.2 C533.3,303.4 535.6,305.0 537.3,304.6 C539.1,304.1 541.2,302.2 542.8,300.5 C544.4,298.8 545.9,296.4 546.9,294.3 C548.0,292.2 548.6,289.2 549.0,288.1" stroke-width="1.68"/>
<path d="M533.9,299.1 C534.6,299.3 536.5,300.9 538.0,300.5 C539.5,300.0 541.5,298.1 542.8,296.4 C544.2,294.6 545.7,291.2 546.2,290.2" stroke-width="1.57"/>
<path d="M539.4,284.0 C538.9,284.9 537.3,287.7 536.7,289.5 C536.0,291.3 535.5,294.1 535.3,295.0" stroke-width="1.46"/>
<path d="M544.2,282.7 C543.7,283.5 542.1,285.9 541.5,287.5 C540.8,289.1 540.3,291.4 540.1,292.2" stroke-width="1.46"/>
<path d="M526.4,299.1 C526.6,300.2 526.8,304.0 527.8,305.9 C528.7,307.9 530.3,309.8 531.9,310.7 C533.5,311.7 535.6,311.8 537.3,311.4 C539.1,311.1 540.9,309.7 542.1,308.7 C543.3,307.7 544.1,305.8 544.5,305.3" stroke-width="1.90"/>
<path d="M551.0,273.8 C551.4,274.4 552.7,276.2 553.1,277.9 C553.5,279.6 553.3,283.0 553.4,284.0" stroke-width="1.57"/>
<path d="M554.5,287.5 L552.5,292.2" stroke-width="1.68"/>
<path d="M547.7,309.9 A12.5,21.5 25.0 0 1 568.2,281.4 A12.5,21.5 25.0 0 1 571.7,310.3 A12.5,21.5 25.0 0 1 548.2,314.4" stroke-width="5.26"/>
<path d="M547.7,309.6 A12.5,21.5 25.0 0 1 568.2,281.4 A12.5,21.5 25.0 0 1 571.8,310.2 A12.5,21.5 25.0 0 1 548.3,314.7" stroke-width="1.90" stroke="#fff"/>

<path d="M595.8,311.9 C595.9,310.7 595.9,307.3 596.4,304.8 C596.9,302.4 597.7,299.4 598.9,297.2 C600.2,294.9 601.3,293.7 604.1,291.4 C606.8,289.2 611.3,286.4 615.6,283.8 C619.8,281.1 626.6,277.8 629.6,275.4 C632.6,273.1 632.1,271.5 633.5,269.7 C634.8,267.9 636.4,265.7 637.9,264.6 C639.4,263.5 641.0,263.0 642.4,262.9 C643.8,262.8 645.6,263.8 646.2,263.9"/><path d="M646.2,263.9 L671.8,278.4"/>
<path d="M639.2,269.1 L634.1,272.9 L631.2,274.2" stroke-width="2.46"/>
<path d="M613.0,293.3 L629.6,282.5 L637.3,278.6 L641.8,279.0"/>
<path d="M613.0,293.3 C614.1,293.2 617.1,292.7 619.4,292.7 C621.7,292.7 624.9,293.3 627.1,293.3 C629.2,293.3 629.8,293.5 632.2,292.7 C634.5,291.9 639.0,289.2 641.1,288.5 C643.2,287.8 643.2,287.9 645.0,288.5 C646.7,289.1 649.4,291.1 651.3,292.1 C653.3,293.0 655.6,294.0 656.5,294.4" stroke-width="1.68"/>
<path d="M640.5,279.3 C640.6,279.8 641.4,281.2 641.1,282.5 C640.8,283.8 640.1,285.6 638.6,286.9 C637.1,288.3 634.9,289.9 632.2,290.8 C629.4,291.7 623.7,292.1 621.9,292.3" stroke-width="1.57"/>
<path d="M608.5,311.9 C608.6,310.9 608.4,308.4 609.2,306.1 C609.9,303.9 611.6,300.3 613.0,298.5 C614.4,296.6 615.8,295.9 617.5,295.3 C619.2,294.6 621.4,294.5 623.2,294.6 C625.0,294.7 627.5,295.7 628.3,295.9"/>
<path d="M670.7,277.8 C671.3,278.4 673.0,279.8 674.5,281.6 C676.0,283.4 678.0,286.8 679.6,288.6 C681.2,290.5 682.6,291.2 684.1,292.5 C685.6,293.8 687.6,294.9 688.6,296.3 C689.5,297.7 689.8,299.2 689.8,300.8 C689.8,302.4 689.5,304.5 688.6,305.9 C687.6,307.3 685.6,308.6 684.1,309.1 C682.6,309.6 680.6,308.5 679.6,309.1 C678.7,309.7 678.3,310.8 678.3,312.9 C678.4,315.1 679.6,320.4 679.9,321.9"/>
<path d="M641.3,278.8 L643.2,278.4 L659.2,287.4 L660.4,290.6 L657.9,296.9 L655.3,303.3 L652.8,309.7 L654.1,316.1 L656.6,318.7 L664.9,321.2"/>
<path d="M656.6,311.0 L669.4,291.2 L670.0,296.9 L670.7,307.2 L659.2,314.2 Z" stroke-width="1.79"/>
<path d="M687.9,296.9 C687.2,296.8 684.8,296.1 683.5,296.3 C682.1,296.5 680.4,297.1 679.6,298.2 C678.9,299.4 678.9,301.6 679.0,303.3 C679.1,305.0 680.0,307.6 680.3,308.5" stroke-width="1.79"/>
<path d="M659.2,315.5 L678.3,308.2" stroke-width="1.68"/>
<path d="M664.9,318.9 L673.2,313.8 L678.3,312.9" stroke-width="1.68"/>
<path d="M647.7,298.2 C648.5,297.8 652.1,295.2 652.8,295.7 C653.5,296.1 652.6,299.1 651.8,301.0 C650.9,303.0 648.6,306.2 647.9,307.2" stroke-width="2.69"/>
<path d="M597.7,300.0 C597.5,301.3 596.6,303.4 596.4,307.7 C596.2,311.9 596.2,317.4 596.4,325.6 C596.6,333.8 597.5,351.7 597.7,356.9"/>
<path d="M601.5,312.8 C601.7,313.8 602.5,314.9 602.8,319.2 C603.1,323.4 603.2,332.1 603.4,338.3 C603.6,344.6 604.0,353.8 604.1,356.9" stroke-width="1.68"/>
<path d="M608.5,300.0 C608.2,301.1 606.5,304.0 606.6,306.4 C606.7,308.7 608.1,311.7 609.2,314.1 C610.2,316.4 611.7,318.8 613.0,320.4 C614.3,322.0 615.3,323.4 616.8,323.6 C618.3,323.9 620.5,322.7 621.9,321.7 C623.4,320.8 624.7,319.4 625.8,317.9 C626.8,316.4 627.3,314.5 628.3,312.8 C629.4,311.1 630.7,309.1 632.2,307.7 C633.7,306.3 635.8,304.7 637.3,304.5 C638.8,304.3 639.8,305.9 641.1,306.4 C642.4,306.9 644.5,307.5 645.2,307.7"/>
<path d="M602.1,313.4 L609.2,317.9 L613.9,321.3" stroke-width="1.57"/>
<ellipse cx="616.2" cy="307.7" rx="2.2" ry="4.5" transform="rotate(25 616.2 307.7)" stroke-width="1.68"/>
<ellipse cx="615.9" cy="307.9" rx="0.9" ry="3" transform="rotate(25 615.9 307.9)" fill="#000" stroke-width="1.12"/>
<path d="M632.2,307.7 C631.5,308.9 629.5,312.4 628.3,315.3 C627.2,318.3 625.9,321.9 625.1,325.6 C624.4,329.2 624.1,333.2 623.9,337.1 C623.7,340.9 623.5,345.3 623.9,348.6 C624.2,351.9 625.5,355.5 625.8,356.9" stroke-width="2.69"/>
<path d="M634.7,311.5 C634.1,312.8 632.1,316.2 630.9,319.2 C629.7,322.2 628.3,325.8 627.7,329.4 C627.1,333.0 627.0,337.3 627.1,340.9 C627.2,344.5 627.7,348.5 628.3,351.1 C629.0,353.8 630.7,355.9 631.2,356.9" stroke-width="1.68"/>
<path d="M643.7,311.5 C642.8,312.8 639.8,316.4 638.6,319.2 C637.3,321.9 636.5,324.9 636.0,328.1 C635.5,331.3 635.8,335.8 635.4,338.3 C634.9,340.9 634.6,342.5 633.5,343.5 C632.3,344.4 629.4,344.0 628.6,344.1" stroke-width="1.68"/>
<path d="M647.5,314.1 C646.7,315.3 643.8,319.0 642.4,321.7 C641.0,324.5 639.8,327.5 639.2,330.7 C638.6,333.9 638.5,337.5 638.6,340.9 C638.7,344.3 639.4,348.5 639.8,351.1 C640.3,353.8 641.1,355.9 641.4,356.9" stroke-width="1.68"/>
<path d="M645.0,300.0 C645.4,300.6 647.0,302.6 647.5,303.8 C648.0,305.1 648.4,306.4 648.1,307.7 C647.9,308.9 646.5,310.9 646.2,311.5" stroke-width="2.69"/>
<path d="M652.6,335.8 L654.5,337.1 L652.6,339.6" stroke-width="1.68"/>
<path d="M678.3,313.8 C678.8,315.3 680.1,319.2 680.9,322.8 C681.6,326.4 682.3,331.3 682.8,335.6 C683.3,339.8 683.6,345.1 684.1,348.3 C684.6,351.5 685.6,352.6 686.0,354.7 C686.4,356.9 686.4,359.2 686.3,361.1 C686.2,363.0 685.5,365.4 685.4,366.2" stroke-width="2.24"/>
<path d="M674.5,318.9 C674.9,320.2 676.2,323.6 677.1,326.6 C677.9,329.6 679.0,333.2 679.6,336.8 C680.3,340.5 680.5,344.3 680.9,348.3 C681.3,352.4 681.9,358.1 681.9,361.1 C682.0,364.1 681.3,365.4 681.2,366.2" stroke-width="1.79"/>
<path d="M665.6,318.9 L673.2,322.1 L674.5,318.9" stroke-width="2.46"/>
<path d="M646.3,300.0 C646.9,300.9 649.5,302.4 650.1,305.1 C650.6,307.9 649.1,313.5 649.6,316.4 C650.0,319.3 651.2,321.1 652.8,322.8 C654.4,324.5 657.4,325.1 659.2,326.6 C661.0,328.1 662.6,329.6 663.6,331.7 C664.7,333.9 665.5,337.2 665.6,339.4 C665.7,341.6 664.5,343.9 664.3,344.8" stroke-width="1.90"/>
<path d="M656.5,300.0 C656.2,301.1 654.8,303.9 654.6,306.4 C654.4,308.9 654.6,312.8 655.3,315.1 C656.1,317.4 657.3,318.5 659.2,320.2 C661.1,321.9 664.9,323.4 666.8,325.3 C668.8,327.3 669.8,329.0 670.7,331.7 C671.5,334.5 671.3,338.5 671.9,341.9 C672.6,345.4 673.8,348.8 674.5,352.2 C675.3,355.6 676.1,360.7 676.4,362.4" stroke-width="1.90"/>
<path d="M670.7,331.7 C670.5,333.2 669.2,337.5 669.4,340.7 C669.6,343.9 670.8,347.4 671.9,350.9 C673.1,354.4 675.4,359.9 676.0,361.8" stroke-width="1.68"/>
<path d="M661.7,347.1 C662.4,346.8 664.3,344.5 665.6,345.8 C666.8,347.1 668.3,351.7 669.4,354.7 C670.5,357.7 671.5,362.2 671.9,363.7" stroke-width="1.68"/>
<path d="M661.7,347.1 C661.9,348.6 662.4,353.2 663.0,356.0 C663.6,358.8 664.7,362.4 665.0,363.7" stroke-width="1.68"/>
<path d="M650.2,326.6 C649.4,327.9 646.3,331.5 645.1,334.3 C643.9,337.1 643.2,340.2 643.2,343.2 C643.2,346.2 644.8,350.7 645.1,352.2" stroke-width="1.90"/>
<path d="M654.1,330.4 C653.3,331.7 650.5,335.3 649.6,338.1 C648.6,340.9 648.3,344.7 648.3,347.1 C648.3,349.4 649.3,351.3 649.5,352.2" stroke-width="1.79"/>
<path d="M652.8,339.4 C652.7,340.9 652.1,346.0 652.1,348.3 C652.2,350.7 652.9,352.6 653.0,353.5" stroke-width="1.68"/>
<path d="M659.2,313.8 L678.3,310.0" stroke-width="1.68"/>
<path d="M664.3,317.0 L679.6,312.6" stroke-width="1.68"/>
<path d="M597.4,355.1 C597.5,358.5 597.6,369.4 597.7,375.6 C597.8,381.7 598.0,389.4 598.1,392.2"/>
<path d="M603.4,350.0 L603.8,369.2" stroke-width="1.68"/>
<path d="M604.1,376.8 L604.7,406.9" stroke-width="1.68"/>
<path d="M623.9,351.9 L610.4,357.0 L611.1,367.9 L623.9,362.8" stroke-width="1.68"/>
<path d="M624.5,350.0 C624.6,352.1 624.8,358.5 625.1,362.8 C625.5,367.0 626.1,371.7 626.4,375.6 C626.7,379.4 627.3,382.8 627.1,385.8 C626.8,388.8 625.6,391.5 625.1,393.5 C624.7,395.4 624.0,396.0 624.5,397.3 C625.0,398.6 626.8,400.3 628.3,401.1 C629.8,402.0 632.6,402.2 633.5,402.4" stroke-width="2.46"/>
<path d="M629.6,350.0 C630.0,351.5 631.4,356.2 632.2,358.9 C632.9,361.7 634.0,363.8 634.1,366.6 C634.2,369.4 633.3,372.2 632.8,375.6 C632.3,379.0 631.3,384.1 630.9,387.1 C630.5,390.0 630.0,391.3 630.3,393.5 C630.5,395.6 632.1,399.0 632.4,400.1" stroke-width="1.68"/>
<path d="M636.0,350.0 C636.3,351.9 637.5,358.1 637.9,361.5 C638.3,364.9 638.7,367.3 638.6,370.4 C638.5,373.6 637.8,377.7 637.3,380.7 C636.8,383.7 635.6,386.0 635.4,388.3 C635.2,390.7 635.0,392.9 636.0,394.7 C637.0,396.5 639.6,398.6 641.1,399.2 C642.6,399.8 644.3,398.7 645.0,398.6" stroke-width="1.68"/>
<path d="M634.1,364.3 L637.9,365.3 L645.0,361.5" stroke-width="1.57"/>
<path d="M634.7,361.8 L643.7,358.3" stroke-width="1.57"/>
<path d="M627.1,385.8 L630.9,387.7 L635.4,388.3" stroke-width="1.57"/>
<path d="M646.2,350.0 C646.4,351.7 647.4,356.8 647.5,360.2 C647.6,363.6 647.1,366.8 646.9,370.4 C646.7,374.1 646.5,378.3 646.2,381.9 C645.9,385.6 645.4,389.0 645.0,392.2 C644.5,395.4 643.9,399.6 643.7,401.1" stroke-width="2.02"/>
<path d="M651.3,350.0 C651.6,352.1 652.5,358.5 652.6,362.8 C652.7,367.0 652.4,371.3 652.0,375.6 C651.6,379.8 650.7,384.5 650.1,388.3 C649.4,392.2 648.6,395.5 648.1,398.6 C647.7,401.7 647.6,405.5 647.5,406.9" stroke-width="1.79"/>
<path d="M656.5,350.0 C656.7,352.1 657.6,358.5 657.7,362.8 C657.8,367.0 657.5,371.3 657.1,375.6 C656.7,379.8 655.9,384.5 655.2,388.3 C654.4,392.2 653.0,396.9 652.6,398.6" stroke-width="1.79"/>
<path d="M648.8,369.2 L652.2,370.4" stroke-width="1.57"/>
<path d="M624.5,397.3 C625.6,397.5 629.1,398.8 630.9,398.8 C632.6,398.8 634.3,397.5 635.0,397.3" stroke-width="1.68"/>
<path d="M685.0,365.1 C684.8,365.5 684.5,365.3 684.1,367.7 C683.7,370.0 683.3,375.3 682.8,379.2 C682.3,383.0 681.4,387.5 680.9,390.7 C680.4,393.9 679.8,397.1 679.6,398.3" stroke-width="2.24"/><path d="M679.6,398.3 C680.5,398.8 683.1,399.8 684.7,400.9 C686.3,402.0 688.1,403.0 689.2,404.7 C690.3,406.4 690.7,409.1 691.1,411.1 C691.6,413.1 691.8,415.9 691.9,416.9"/>
<path d="M680.9,365.1 C680.9,366.4 681.1,369.4 680.9,372.8 C680.7,376.2 680.1,381.3 679.6,385.6 C679.1,389.8 678.3,394.9 677.7,398.3 C677.1,401.8 676.1,404.9 675.8,406.3" stroke-width="1.79"/>
<path d="M661.7,363.8 C662.0,365.8 663.4,370.6 663.6,375.3 C663.9,380.0 663.5,387.1 663.0,391.9 C662.5,396.8 661.3,400.6 660.4,404.7 C659.6,408.9 658.3,414.8 657.9,416.9" stroke-width="1.90"/>
<path d="M665.6,363.8 C665.9,365.8 667.2,370.6 667.5,375.3 C667.8,380.0 667.8,387.1 667.5,391.9 C667.2,396.8 666.0,401.9 665.6,404.7 C665.1,407.6 664.7,408.5 664.5,409.2" stroke-width="1.90"/>
<path d="M670.3,363.8 C670.7,365.8 672.1,370.6 672.6,375.3 C673.1,380.0 673.3,387.1 673.2,391.9 C673.1,396.8 672.3,401.9 671.9,404.7 C671.6,407.6 671.2,408.5 671.1,409.2" stroke-width="1.90"/>
<path d="M675.0,363.8 C675.5,365.3 677.1,369.2 677.7,372.8 C678.3,376.4 678.4,381.3 678.3,385.6 C678.2,389.8 677.7,394.0 677.1,398.3 C676.4,402.6 674.9,409.2 674.5,411.4" stroke-width="1.90"/>
<path d="M678.3,399.9 C679.0,400.5 681.0,402.3 682.2,403.5 C683.3,404.6 684.9,405.6 685.4,406.6 C685.8,407.7 685.5,409.5 684.7,409.8 C684.0,410.2 681.5,408.8 680.9,408.6" stroke-width="2.02"/>
<path d="M647.7,368.9 L652.1,370.2" stroke-width="1.57"/>
<path d="M647.0,394.5 L652.1,397.1 L652.8,404.7" stroke-width="1.68"/>
<path d="M598.6,393.1 C598.6,397.8 598.2,415.1 598.6,421.2 C599.0,427.3 599.0,427.3 600.9,429.7 C602.9,432.2 607.4,434.8 610.3,436.0 C613.1,437.1 615.8,437.4 618.1,436.8 C620.3,436.1 621.7,434.4 623.5,432.1 C625.3,429.7 627.0,425.6 629.0,422.7 C630.9,419.9 632.6,417.0 635.2,414.9 C637.8,412.9 642.3,410.9 644.5,410.3 C646.8,409.6 648.1,410.9 648.8,411.0"/>
<path d="M605.6,421.2 C606.4,420.1 608.7,417.5 610.3,414.9 C611.8,412.3 613.1,408.1 614.9,405.6 C616.8,403.1 619.3,401.2 621.2,400.1 C623.0,399.1 625.3,399.5 626.2,399.4" stroke-width="1.68"/>
<path d="M605.1,399.4 L605.6,421.2 L609.5,426.9" stroke-width="1.68"/>
<path d="M609.5,427.4 C610.1,425.8 612.1,421.2 613.4,418.1 C614.7,414.9 615.7,411.3 617.3,408.7 C618.8,406.1 621.0,403.6 622.7,402.5 C624.5,401.3 626.9,401.8 627.7,401.7" stroke-width="1.68"/>
<ellipse cx="618.1" cy="423.5" rx="3" ry="5" transform="rotate(28 618.1 423.5)" fill="#000" stroke-width="1.46"/>
<path d="M618.8,420.4 C619.1,420.8 620.4,422.1 620.4,423.0 C620.4,424.0 619.1,425.6 618.8,426.2" stroke-width="1.12" stroke="#fff"/>
<path d="M631.3,420.4 C632.2,419.6 634.8,416.9 636.8,415.7 C638.8,414.5 642.2,413.8 643.3,413.4" stroke-width="1.68"/>
<path d="M625.8,390.0 C625.7,391.0 624.5,394.4 625.1,396.2 C625.6,398.1 627.0,400.0 629.0,400.9 C630.9,401.8 634.4,401.9 636.8,401.7 C639.1,401.4 641.6,401.3 643.0,399.4 C644.3,397.4 644.5,391.6 644.9,390.0" stroke-width="2.24"/>
<path d="M648.4,407.1 C648.7,410.5 649.4,423.2 650.0,427.4 C650.6,431.6 650.9,431.0 652.3,432.1 C653.8,433.1 656.2,433.5 658.6,433.6 C660.9,433.8 664.3,433.6 666.4,432.9 C668.4,432.1 670.0,430.9 671.0,429.0 C672.1,427.0 671.9,425.1 672.6,421.2 C673.2,417.3 674.2,410.8 674.9,405.6 C675.7,400.4 676.9,392.6 677.3,390.0"/>
<path d="M652.3,410.3 L651.6,421.2 L657.0,422.7 L657.8,413.4 L655.5,408.7 Z" stroke-width="1.68"/>
<path d="M658.6,413.4 L663.2,418.1 L662.5,433.6" stroke-width="1.68"/>
<path d="M663.2,418.1 C663.4,416.2 663.9,410.0 664.2,407.1 C664.4,404.3 664.7,401.9 664.8,400.9" stroke-width="1.68"/>
<path d="M644.5,390.0 C644.8,391.6 645.6,396.5 646.1,399.4 C646.6,402.2 646.6,405.3 647.7,407.1 C648.7,409.0 651.6,409.7 652.3,410.3" stroke-width="2.02"/>
<path d="M650.8,390.0 C651.0,391.6 651.8,396.4 652.3,399.4 C652.9,402.3 653.6,406.1 653.9,407.5" stroke-width="1.68"/>
<path d="M677.3,402.5 C678.1,401.9 680.1,399.4 681.9,399.4 C683.8,399.4 686.5,400.6 688.2,402.5 C689.9,404.3 691.6,407.1 692.1,410.3 C692.6,413.4 692.2,418.3 691.3,421.2 C690.4,424.0 688.4,426.1 686.6,427.4 C684.8,428.7 682.7,429.2 680.4,429.0 C678.1,428.8 673.9,426.6 672.6,426.2"/>
<path d="M681.9,404.0 C682.5,404.5 684.8,406.1 685.1,407.1 C685.3,408.2 683.8,409.7 683.5,410.3" stroke-width="2.69"/>
<path d="M692.1,411.8 C690.9,412.3 686.9,413.4 685.1,414.9 C683.2,416.5 681.8,418.9 681.2,421.2 C680.5,423.4 681.2,427.3 681.2,428.5" stroke-width="1.68"/>
<path d="M670.1,400.9 C670.0,401.7 669.8,402.2 669.5,405.6 C669.1,409.0 668.3,416.7 667.9,421.2 C667.5,425.6 667.3,430.5 667.1,432.4" stroke-width="1.79"/>

<path d="M416.3,63.7 C415.7,62.3 417.6,60.9 418.7,59.9 C419.8,58.8 421.4,57.8 422.8,57.3 C424.3,56.9 426.1,56.9 427.4,57.1 C428.7,57.4 429.8,58.0 430.6,59.0 C431.4,59.9 431.9,61.4 432.0,62.6 C432.0,63.8 431.6,65.0 431.1,66.3 C430.5,67.5 429.4,68.9 428.8,69.9 C428.1,70.9 428.4,72.6 427.2,72.3 C426.1,72.0 423.7,69.7 421.9,68.3 C420.1,66.8 416.8,65.1 416.3,63.7 Z" stroke-width="2.13" fill="#fff"/>
<path d="M411.4,72.2 C411.1,70.7 411.3,69.6 411.9,68.5 C412.4,67.5 413.8,66.4 414.6,65.8 C415.4,65.2 415.7,64.7 416.9,64.9 C418.1,65.0 420.3,65.7 421.9,66.7 C423.5,67.7 425.5,69.6 426.5,70.8 C427.4,72.0 427.7,73.0 427.6,74.0 C427.5,75.1 426.9,76.2 426.0,77.2 C425.2,78.2 423.7,79.7 422.4,80.1 C421.0,80.6 419.3,80.6 417.8,80.1 C416.4,79.7 414.8,79.0 413.7,77.7 C412.6,76.4 411.7,73.7 411.4,72.2 Z" stroke-width="2.13" fill="#fff"/>
<path d="M415.7,65.2 C416.6,65.5 419.2,66.2 421.0,67.4 C422.8,68.5 425.7,71.2 426.7,71.9" stroke-width="3.36"/>
<path d="M416.1,65.0 C416.9,65.3 419.5,66.0 421.2,67.1 C422.9,68.2 425.6,70.7 426.5,71.4" stroke-width="0.67" stroke="#fff"/>
<path d="M412.1,72.8 C412.0,71.5 412.7,70.4 413.7,69.7 C414.7,69.1 416.4,68.5 417.8,68.7 C419.2,68.9 421.0,69.9 421.9,70.8 C422.8,71.8 423.4,73.3 423.4,74.5 C423.4,75.7 422.8,77.1 421.9,78.0 C421.1,78.8 419.5,79.8 418.3,79.8 C417.0,79.8 415.3,79.1 414.2,78.0 C413.2,76.8 412.1,74.2 412.1,72.8 Z" stroke-width="2.24"/>
<path d="M414.6,75.0 C414.7,74.5 415.4,73.6 416.0,73.2 C416.6,72.9 417.6,72.7 418.3,72.9 C418.9,73.1 419.9,73.9 420.1,74.5 C420.3,75.1 420.1,76.2 419.6,76.7 C419.2,77.2 418.1,77.4 417.4,77.4 C416.6,77.4 415.8,76.9 415.3,76.5 C414.9,76.1 414.5,75.6 414.6,75.0 Z" stroke-width="1.79"/>
<path d="M390.5,109.2 C389.8,108.3 391.1,104.6 391.8,102.4 C392.6,100.2 394.1,98.0 395.0,96.0 C396.0,94.0 396.5,92.2 397.3,90.5 C398.2,88.9 398.9,87.1 400.1,86.0 C401.3,84.8 403.6,84.4 404.6,83.7 C405.7,83.0 405.7,82.2 406.5,81.8 C407.2,81.5 408.3,81.2 409.2,81.4 C410.1,81.5 411.3,82.0 411.9,82.8 C412.5,83.5 412.9,84.9 412.9,86.0 C412.9,87.0 412.4,88.5 411.9,89.2 C411.5,89.8 410.2,89.4 410.1,90.1 C410.0,90.8 411.3,92.2 411.5,93.3 C411.6,94.3 411.6,95.2 411.0,96.5 C410.4,97.7 408.9,99.6 407.8,100.6 C406.8,101.6 405.7,101.5 404.6,102.4 C403.6,103.3 402.9,105.1 401.4,106.1 C400.0,107.0 397.8,107.8 396.0,108.3 C394.1,108.9 391.2,110.2 390.5,109.2 Z" stroke-width="1.12" fill="#000"/>
<ellipse cx="409.8" cy="85.0" rx="1.7" ry="1.9" fill="#fff" stroke="none"/>
<path d="M396.1,98.9 L399.6,103.5" stroke-width="1.68" stroke="#fff"/>
<path d="M397.6,95.8 L401.6,100.9" stroke-width="1.68" stroke="#fff"/>
<path d="M399.2,92.8 L403.3,97.8" stroke-width="1.57" stroke="#fff"/>
<path d="M400.7,90.1 L403.7,93.7" stroke-width="1.12" stroke="#fff"/>
<path d="M392.1,106.8 L396.0,104.4 L394.7,107.0 Z" stroke-width="0.67" fill="#fff" stroke="#fff"/>
<path d="M401.1,88.7 L402.9,88.1 L403.3,90.3 Z" stroke-width="0.56" fill="#fff" stroke="#fff"/>
<path d="M404.7,91.6 L407.1,90.5 L406.6,93.4 Z" stroke-width="0.56" fill="#fff" stroke="#fff"/>
<path d="M405.5,86.9 L407.4,88.7" stroke-width="1.01" stroke="#fff"/>
<path d="M407.8,95.5 L409.2,93.7" stroke-width="1.01" stroke="#fff"/>
<path d="M343.0,223.0 C343.1,221.6 343.3,219.5 344.1,218.4 C345.0,217.3 346.8,216.4 348.1,216.1 C349.4,215.8 350.1,215.9 351.8,216.7 C353.4,217.5 356.6,219.4 357.8,220.7 C359.0,222.0 359.1,223.2 358.9,224.7 C358.8,226.2 357.8,228.7 356.7,229.8 C355.5,231.0 353.7,231.6 352.1,231.5 C350.5,231.4 348.4,230.1 347.0,229.2 C345.5,228.4 344.2,227.7 343.5,226.6 C342.9,225.6 342.9,224.3 343.0,223.0 Z" stroke-width="2.13" fill="#fff"/>
<ellipse cx="354.0" cy="225.8" rx="2.2" ry="2.7" transform="rotate(25 354.0 225.8)" stroke-width="1.79"/>
<circle cx="347.2" cy="224.5" r="0.7" fill="#000" stroke="none"/>

</g>

<!--LABELS-->
<g stroke-width="1.25" stroke-linecap="butt">
<path d="M367,52 L336.4,98.2"/>
<path d="M289.5,81.2 L234.9,115.1 L277.6,171"/>
<path d="M458.8,67.1 L413.2,88.6"/>
<path d="M279.2,253.3 L313.4,202.3"/>
<path d="M315.4,274.3 L344,228.2"/>
<path d="M343.2,293.9 L370.6,243.4"/>
<path d="M496,123.4 L466.6,164.2"/>
<path d="M499,188.4 L476.6,230.4"/>
<path d="M525.3,207 L499.9,252.9"/>
<path d="M565.9,228 L541,269.3"/>
<path d="M597.7,246 L575.2,281.6"/>
<path d="M407.1,310 L397,326.9 M407.1,310 L423,279.3"/>
<path d="M715.4,275.9 L676.4,295.3"/>
<path d="M746,8.2 L700.4,28.3"/>
<path d="M747,77.4 L688.4,102"/>
<path d="M588.2,113.7 L643.3,98"/>
<path d="M748.9,123.8 L716.2,136.5"/>
<path d="M727.8,225.6 L680.3,217.4"/>
</g>
<g fill="#000" stroke="#000" stroke-width="0.35" stroke-linejoin="miter">
<text class="n" x="363.2" y="49.6">2</text>
<path d="M278.3,268.3 L278.3,257.4 L276.1,257.4 L274.9,259.0 L272.4,260.4 L272.4,262.6 L275.3,261.1 L275.3,268.3 Z" stroke-width="0.2"/>
<text class="n" x="306.8" y="290.4">3</text>
<path d="M338.9,309.0 L338.9,298.1 L336.7,298.1 L335.5,299.7 L333.0,301.1 L333.0,303.3 L335.9,301.8 L335.9,309.0 Z" stroke-width="0.2"/><text class="n" x="340.8" y="309">0</text>
<text class="n" x="494" y="119.7">5</text>
<text class="n" x="495.8" y="186">9</text>
<text class="n" x="522" y="204.3">8</text>
<text class="n" x="566.4" y="226.2">7</text>
<text class="n" x="598.4" y="241.8">6</text>
<text class="n" x="391.6" y="340.2">5</text>
<text class="n" x="720.5" y="280.3">4</text>
<path d="M756.5,11.3 L756.5,0.4 L754.3,0.4 L753.1,2.0 L750.6,3.4 L750.6,5.6 L753.5,4.1 L753.5,11.3 Z" stroke-width="0.2"/><text class="n" x="758.4" y="11.3">4</text>
<path d="M757.9,81.9 L757.9,71.0 L755.7,71.0 L754.5,72.6 L752.0,74.0 L752.0,76.2 L754.9,74.7 L754.9,81.9 Z" stroke-width="0.2"/><text class="n" x="759.8" y="81.9">2</text>
<path d="M579.1,122.4 L579.1,111.5 L576.9,111.5 L575.7,113.1 L573.2,114.5 L573.2,116.7 L576.1,115.2 L576.1,122.4 Z" stroke-width="0.2"/><path d="M586.9,122.4 L586.9,111.5 L584.7,111.5 L583.5,113.1 L581.0,114.5 L581.0,116.7 L583.9,115.2 L583.9,122.4 Z" stroke-width="0.2"/>
<path d="M757.9,129.1 L757.9,118.2 L755.7,118.2 L754.5,119.8 L752.0,121.2 L752.0,123.4 L754.9,121.9 L754.9,129.1 Z" stroke-width="0.2"/><text class="n" x="759.8" y="129.1">3</text>
<path d="M738.7,232.9 L738.7,222.0 L736.5,222.0 L735.3,223.6 L732.8,225.0 L732.8,227.2 L735.7,225.7 L735.7,232.9 Z" stroke-width="0.2"/><text class="n" x="740.6" y="232.9">4</text>
<text class="t" x="181.2" y="112.7">44 Nm</text>
<text class="t" x="181.2" y="126.4">32 ft.lbs.</text>
<text class="t" x="459.6" y="65.8">8 Nm</text>
<text class="t" x="459.6" y="79.9">6 ft.lbs.</text>
<rect x="507.4" y="109.1" width="12.2" height="12.2"/>
<rect x="508.3" y="174.9" width="12.3" height="12.1"/>
<rect x="579" y="214.8" width="12.5" height="12.4"/>
<rect x="374.2" y="329.3" width="12.8" height="12.5"/>
<g fill="#fff" stroke="#fff" stroke-width="0.2">
<text class="nn" x="509.6" y="119.4">N</text>
<text class="nn" x="510.5" y="185.1">N</text>
<text class="nn" x="581.3" y="225.2">N</text>
<text class="nn" x="376.7" y="339.8">N</text>
</g>
</g>

</svg>
</body></html>
